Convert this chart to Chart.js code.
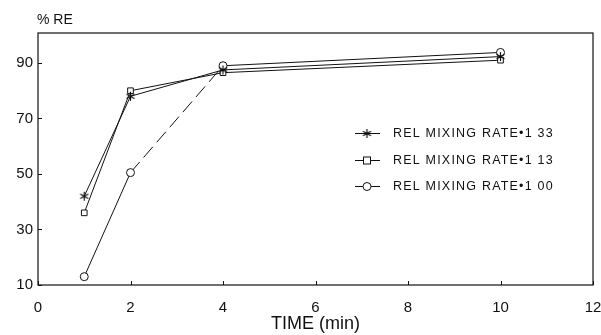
<!DOCTYPE html>
<html>
<head>
<meta charset="utf-8">
<script src="https://cdn.jsdelivr.net/npm/chart.js@4"></script>
<style>
  html, body { margin: 0; padding: 0; background: #fff; }
  #wrap { width: 601px; height: 335px; }
</style>
</head>
<body>
<div id="wrap"><canvas id="reChart" width="601" height="335"></canvas></div>
<script>
// data
const timeMin = [1, 2, 4, 10];
const rate133 = [42, 78, 87.5, 92.3];
const rate113 = [36, 80, 86.5, 91];
const rate100 = [13, 50.5, 89, 93.8];
const xTicks = [0, 2, 4, 6, 8, 10, 12];
const yTicks = [10, 30, 50, 70, 90];
const seriesLabels = ['REL MIXING RATE•1 33', 'REL MIXING RATE•1 13', 'REL MIXING RATE•1 00'];

const FONT = "'Liberation Sans', Arial, sans-serif";
const ink = '#111';

function pts(ys) {
  return timeMin.map((t, i) => ({ x: t, y: ys[i] }));
}

// draws the asterisk marker
function starMarker() {
  const c = document.createElement('canvas');
  c.width = 11; c.height = 11;
  const g = c.getContext('2d');
  g.strokeStyle = ink;
  g.lineWidth = 1.2;
  g.beginPath();
  g.moveTo(5.5, 1); g.lineTo(5.5, 10);
  g.moveTo(1.5, 3.2); g.lineTo(9.5, 7.8);
  g.moveTo(1.5, 7.8); g.lineTo(9.5, 3.2);
  g.stroke();
  return c;
}
const star = starMarker();

// box, inward ticks, y-axis title and legend
const decorPlugin = {
  id: 'decor',
  afterDraw(chart) {
    const { ctx, chartArea: a, scales } = chart;
    ctx.save();
    ctx.strokeStyle = ink;
    ctx.lineWidth = 1.2;
    ctx.strokeRect(a.left, a.top, a.right - a.left, a.bottom - a.top);

    ctx.lineWidth = 1;
    ctx.beginPath();
    yTicks.forEach(v => {
      const y = Math.round(scales.y.getPixelForValue(v)) + 0.5;
      ctx.moveTo(a.left, y); ctx.lineTo(a.left + 4, y);
    });
    xTicks.forEach(v => {
      const x = Math.round(scales.x.getPixelForValue(v)) + 0.5;
      ctx.moveTo(x, a.bottom); ctx.lineTo(x, a.bottom - 4);
    });
    ctx.stroke();

    ctx.fillStyle = ink;
    ctx.font = '14px ' + FONT;
    ctx.textAlign = 'left';
    ctx.textBaseline = 'middle';
    ctx.fillText('% RE', 37, 20);

    // legend
    const lx = 355, rows = [133, 160, 186];
    ctx.font = '12.5px ' + FONT;
    ctx.letterSpacing = '1.2px';
    chart.data.datasets.forEach((ds, i) => {
      const y = rows[i] + 0.5;
      ctx.strokeStyle = ink;
      ctx.lineWidth = 1;
      ctx.beginPath();
      ctx.moveTo(lx, y); ctx.lineTo(lx + 25, y);
      ctx.stroke();
      const cx = lx + 12;
      if (ds.pointStyle === 'rect') {
        ctx.fillStyle = '#fff';
        ctx.fillRect(cx - 3.5, y - 3.5, 7, 7);
        ctx.strokeRect(cx - 3.5, y - 3.5, 7, 7);
      } else if (ds.pointStyle === 'circle') {
        ctx.fillStyle = '#fff';
        ctx.beginPath(); ctx.arc(cx, y, 4, 0, Math.PI * 2); ctx.fill(); ctx.stroke();
      } else {
        ctx.drawImage(star, cx - 5.5, y - 5.5);
      }
      ctx.fillStyle = ink;
      ctx.fillText(ds.label, lx + 38, y);
    });
    ctx.restore();
  }
};

function lineSet(label, ys, style, extra) {
  return Object.assign({
    label: label,
    data: pts(ys),
    borderColor: ink,
    borderWidth: 1,
    backgroundColor: '#fff',
    pointStyle: style,
    pointRadius: 4,
    pointBorderColor: ink,
    pointBorderWidth: 1,
    pointBackgroundColor: '#fff',
    tension: 0
  }, extra || {});
}

new Chart(document.getElementById('reChart'), {
  type: 'line',
  data: {
    datasets: [
      lineSet(seriesLabels[0], rate133, star, { pointRadius: 5 }),
      lineSet(seriesLabels[1], rate113, 'rect', { pointRadius: 4 }),
      lineSet(seriesLabels[2], rate100, 'circle', {
        segment: { borderDash: c => c.p0DataIndex === 1 ? [14, 6] : undefined }
      })
    ]
  },
  options: {
    responsive: false,
    animation: false,
    layout: { padding: { top: 33, right: 2, left: 0, bottom: 0 } },
    plugins: { legend: { display: false }, tooltip: { enabled: false } },
    scales: {
      x: {
        type: 'linear',
        min: 0, max: 12,
        afterBuildTicks: s => { s.ticks = xTicks.map(v => ({ value: v })); },
        afterFit: s => { s.height = 50; s.paddingRight = 8; s.paddingLeft = 0; },
        grid: { display: false, drawTicks: false },
        border: { display: false },
        ticks: { color: ink, font: { family: FONT, size: 15 }, padding: 14, maxRotation: 0 },
        title: { display: true, text: 'TIME (min)', color: ink, font: { family: FONT, size: 18 }, padding: { top: 0, bottom: 0 } }
      },
      y: {
        min: 10, max: 100.8,
        afterBuildTicks: s => { s.ticks = yTicks.map(v => ({ value: v })); },
        afterFit: s => { s.width = 38; },
        grid: { display: false, drawTicks: false },
        border: { display: false },
        ticks: { color: ink, font: { family: FONT, size: 15 }, padding: 5 }
      }
    }
  },
  plugins: [decorPlugin]
});
</script>
</body>
</html>
